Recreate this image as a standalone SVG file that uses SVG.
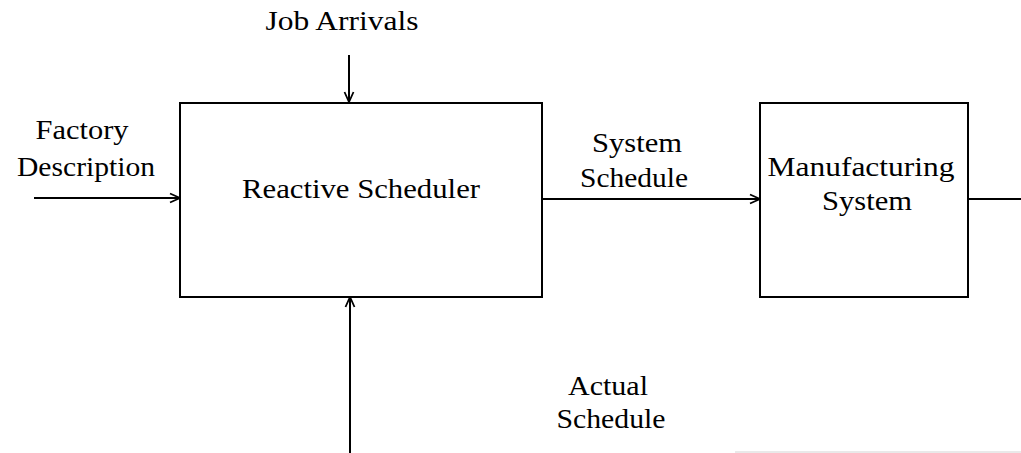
<svg xmlns="http://www.w3.org/2000/svg" width="1021" height="453" viewBox="0 0 1021 453">
  <style>
    .box { fill: #fff; stroke: #000; stroke-width: 2; }
    .wire { fill: none; stroke: #000; stroke-width: 2; }
    text { font-family: "Liberation Serif", "DejaVu Serif", serif; font-size: 28px; fill: #000; text-anchor: middle; }
  </style>
  <defs>
    <marker id="arrow" viewBox="0 0 12 12" refX="11" refY="6" markerWidth="12" markerHeight="12" markerUnits="userSpaceOnUse" orient="auto">
      <path d="M1,1.5 L11,6 L1,10.5" fill="none" stroke="#000" stroke-width="1.8"/>
    </marker>
  </defs>

  <rect width="1021" height="453" fill="#fff"/>

  <g id="connectors">
    <line class="wire" x1="349" y1="55" x2="349" y2="102" marker-end="url(#arrow)"/>
    <line class="wire" x1="34" y1="198" x2="180" y2="198" marker-end="url(#arrow)"/>
    <line class="wire" x1="542" y1="199" x2="760" y2="199" marker-end="url(#arrow)"/>
    <line class="wire" x1="968" y1="199" x2="1021" y2="199"/>
    <line class="wire" x1="350" y1="453" x2="350" y2="297" marker-end="url(#arrow)"/>
  </g>

  <g id="reactive-scheduler">
    <rect class="box" x="180" y="103" width="362" height="194"/>
    <text x="361" y="198" textLength="238" lengthAdjust="spacingAndGlyphs">Reactive Scheduler</text>
  </g>

  <g id="manufacturing-system">
    <rect class="box" x="760" y="103" width="208" height="194"/>
    <text x="861" y="176" textLength="187" lengthAdjust="spacingAndGlyphs">Manufacturing</text>
    <text x="867" y="210" textLength="90" lengthAdjust="spacingAndGlyphs">System</text>
  </g>

  <g id="labels">
    <text x="342" y="30" textLength="153" lengthAdjust="spacingAndGlyphs">Job Arrivals</text>
    <text x="82" y="139" textLength="93" lengthAdjust="spacingAndGlyphs">Factory</text>
    <text x="86" y="176" textLength="138" lengthAdjust="spacingAndGlyphs">Description</text>
    <text x="637" y="152" textLength="90" lengthAdjust="spacingAndGlyphs">System</text>
    <text x="634" y="187" textLength="108" lengthAdjust="spacingAndGlyphs">Schedule</text>
    <text x="608" y="395" textLength="80" lengthAdjust="spacingAndGlyphs">Actual</text>
    <text x="611" y="428" textLength="109" lengthAdjust="spacingAndGlyphs">Schedule</text>
  </g>

  <!-- faint rule along the lower right edge -->
  <line x1="735" y1="452" x2="1021" y2="452" stroke="#d4d4d4" stroke-width="1.2"/>
</svg>
